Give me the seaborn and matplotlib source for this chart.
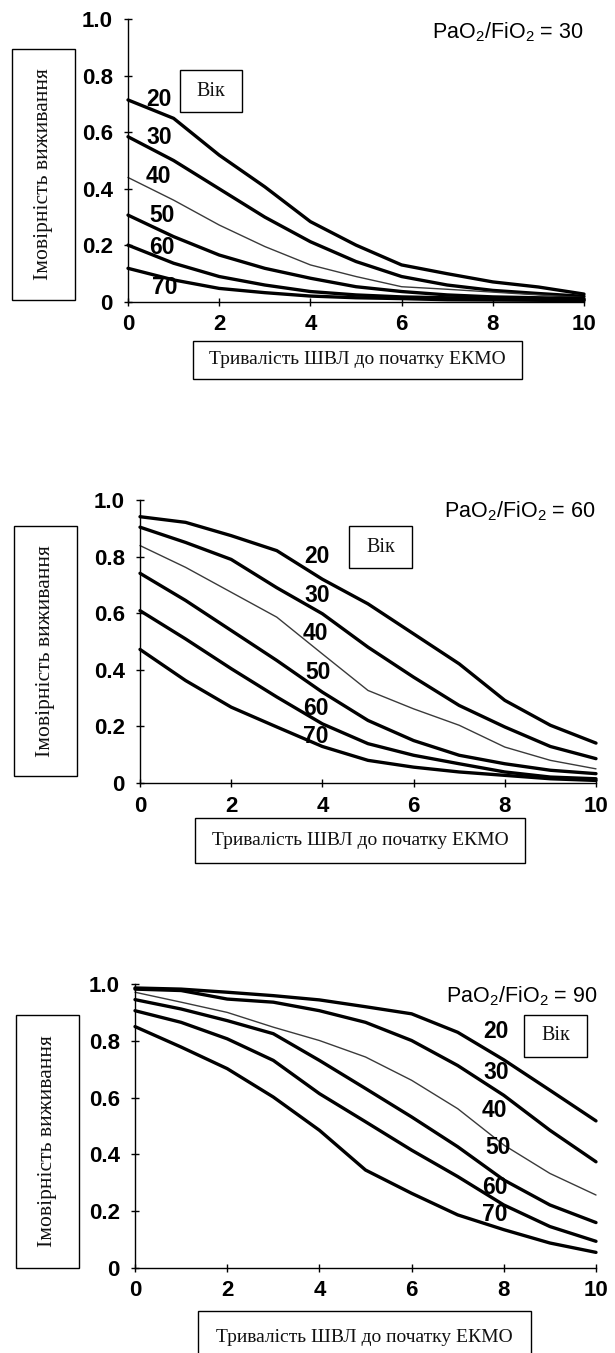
import numpy as np
import pandas as pd
import matplotlib
matplotlib.use("Agg")
import matplotlib.pyplot as plt
from matplotlib.patches import Rectangle
import seaborn as sns

# Ventilation days before ECMO (x) and survival probability per age group
days = [0, 1, 2, 3, 4, 5, 6, 7, 8, 9, 10]
ages = [20, 30, 40, 50, 60, 70]

# PaO2/FiO2 = 30
p30_age20 = [0.714, 0.649, 0.519, 0.407, 0.284, 0.201, 0.131, 0.100, 0.071, 0.053, 0.028]
p30_age30 = [0.584, 0.500, 0.400, 0.300, 0.213, 0.143, 0.090, 0.060, 0.041, 0.030, 0.020]
p30_age40 = [0.440, 0.360, 0.272, 0.196, 0.131, 0.090, 0.054, 0.045, 0.035, 0.025, 0.015]
p30_age50 = [0.307, 0.231, 0.166, 0.119, 0.084, 0.054, 0.037, 0.025, 0.018, 0.015, 0.012]
p30_age60 = [0.201, 0.137, 0.090, 0.060, 0.037, 0.025, 0.018, 0.015, 0.012, 0.010, 0.008]
p30_age70 = [0.119, 0.078, 0.048, 0.033, 0.021, 0.015, 0.012, 0.008, 0.007, 0.006, 0.005]

# PaO2/FiO2 = 60
p60_age20 = [0.941, 0.921, 0.874, 0.821, 0.720, 0.633, 0.527, 0.421, 0.292, 0.204, 0.141]
p60_age30 = [0.904, 0.850, 0.790, 0.690, 0.598, 0.480, 0.374, 0.274, 0.198, 0.129, 0.086]
p60_age40 = [0.839, 0.762, 0.674, 0.586, 0.456, 0.327, 0.262, 0.204, 0.127, 0.080, 0.050]
p60_age50 = [0.741, 0.645, 0.539, 0.433, 0.321, 0.221, 0.150, 0.098, 0.068, 0.045, 0.033]
p60_age60 = [0.609, 0.509, 0.404, 0.304, 0.209, 0.139, 0.098, 0.068, 0.039, 0.021, 0.015]
p60_age70 = [0.472, 0.362, 0.268, 0.198, 0.129, 0.080, 0.056, 0.039, 0.027, 0.015, 0.009]

# PaO2/FiO2 = 90
p90_age20 = [0.986, 0.982, 0.971, 0.959, 0.944, 0.920, 0.895, 0.830, 0.733, 0.626, 0.518]
p90_age30 = [0.982, 0.977, 0.947, 0.936, 0.906, 0.865, 0.801, 0.713, 0.608, 0.485, 0.374]
p90_age40 = [0.971, 0.936, 0.900, 0.848, 0.801, 0.743, 0.661, 0.561, 0.433, 0.333, 0.257]
p90_age50 = [0.945, 0.912, 0.871, 0.825, 0.731, 0.632, 0.532, 0.427, 0.310, 0.222, 0.160]
p90_age60 = [0.906, 0.865, 0.807, 0.731, 0.614, 0.515, 0.415, 0.322, 0.222, 0.146, 0.094]
p90_age70 = [0.850, 0.778, 0.702, 0.602, 0.485, 0.345, 0.263, 0.187, 0.135, 0.088, 0.055]

ratios = ["30", "60", "90"]
x_ticks = [0, 2, 4, 6, 8, 10]
x_ticklabels = ["0", "2", "4", "6", "8", "10"]
y_ticks = [0, 0.2, 0.4, 0.6, 0.8, 1.0]
y_ticklabels = ["0", "0.2", "0.4", "0.6", "0.8", "1.0"]

y_title = "Імовірність виживання"
x_title = "Тривалість ШВЛ до початку ЕКМО"
legend_title = "Вік"

panels = {
    "30": [p30_age20, p30_age30, p30_age40, p30_age50, p30_age60, p30_age70],
    "60": [p60_age20, p60_age30, p60_age40, p60_age50, p60_age60, p60_age70],
    "90": [p90_age20, p90_age30, p90_age40, p90_age50, p90_age60, p90_age70],
}

sns.set_theme(style="white")
plt.rcParams["font.family"] = ["Liberation Sans", "DejaVu Sans"]
plt.rcParams["mathtext.fontset"] = "custom"
plt.rcParams["mathtext.rm"] = "Liberation Sans"
plt.rcParams["mathtext.it"] = "Liberation Sans:italic"
plt.rcParams["mathtext.bf"] = "Liberation Sans:bold"

W, H = 615, 1353
fig = plt.figure(figsize=(W / 100, H / 100), dpi=100)


def fx(px):
    return px / W


def fy(py):
    return 1 - py / H


def add_box(x0, y0, x1, y1, text, rotation=0, size=14):
    fig.add_artist(Rectangle((fx(x0), fy(y1)), fx(x1) - fx(x0), fy(y0) - fy(y1),
                             transform=fig.transFigure, fill=False,
                             edgecolor="black", linewidth=1.0))
    fig.text(fx((x0 + x1) / 2), fy((y0 + y1) / 2), text, rotation=rotation,
             ha="center", va="center", fontsize=size, color="#111111",
             family=["Liberation Serif", "DejaVu Serif"])


# layout of each panel in pixels: axes (left, right, top, bottom)
axes_px = [(128, 584, 19, 302), (140, 596, 500, 783), (135, 596, 984, 1268)]
ratio_text_px = [(584, 32), (596, 511), (598, 996)]
age_box_px = [(180, 70, 242, 112), (349, 526, 412, 568), (524, 1015, 587, 1057)]
ylab_box_px = [(12, 49, 75, 300), (14, 526, 77, 776), (16, 1015, 79, 1268)]
xlab_box_px = [(193, 341, 522, 379), (195, 818, 525, 863), (198, 1311, 531, 1365)]
age_label_pos = [
    [(0.68, 0.714), (0.68, 0.58), (0.66, 0.442), (0.75, 0.307), (0.75, 0.194), (0.81, 0.053)],
    [(3.88, 0.80), (3.88, 0.664), (3.85, 0.53), (3.90, 0.392), (3.85, 0.265), (3.85, 0.166)],
    [(7.83, 0.831), (7.83, 0.69), (7.80, 0.556), (7.87, 0.423), (7.80, 0.285), (7.80, 0.187)],
]

for i, r in enumerate(ratios):
    l, rgt, t, b = axes_px[i]
    ax = fig.add_axes([fx(l), fy(b), fx(rgt) - fx(l), fy(t) - fy(b)])
    df = pd.DataFrame({
        "day": np.tile(days, len(ages)),
        "prob": np.concatenate(panels[r]),
        "age": np.repeat(ages, len(days)),
    })
    for age in ages:
        sub = df[df["age"] == age]
        thin = age == 40
        sns.lineplot(data=sub, x="day", y="prob", ax=ax,
                     color="#3a3a3a" if thin else "black",
                     linewidth=1.0 if thin else 2.4, clip_on=False)
    for age, (lx, ly) in zip(ages, age_label_pos[i]):
        ax.text(lx, ly, str(age), ha="center", va="center", fontsize=16.5,
                fontweight="bold", color="black")

    ax.set_xlim(0, 10)
    ax.set_ylim(0, 1)
    ax.set_xticks(x_ticks)
    ax.set_xticklabels(x_ticklabels, fontsize=16, fontweight="bold")
    ax.set_yticks(y_ticks)
    ax.set_yticklabels(y_ticklabels, fontsize=16, fontweight="bold")
    ax.set_xlabel("")
    ax.set_ylabel("")
    for side in ["top", "right"]:
        ax.spines[side].set_visible(False)
    for side in ["left", "bottom"]:
        ax.spines[side].set_color("black")
        ax.spines[side].set_linewidth(1.0)
    ax.tick_params(axis="both", direction="inout", length=6, width=1.0,
                   colors="black", left=True, bottom=True)
    ax.tick_params(axis="y", pad=8)
    ax.tick_params(axis="x", pad=6)
    ax.set_facecolor("white")

    tx, ty = ratio_text_px[i]
    fig.text(fx(tx), fy(ty), r"PaO$_\mathregular{2}$/FiO$_\mathregular{2}$ = " + r,
             ha="right", va="center", fontsize=15.5, color="black")

    add_box(*age_box_px[i], legend_title, size=14.5)
    add_box(*ylab_box_px[i], y_title, rotation=90, size=15.5)
    add_box(*xlab_box_px[i], x_title, size=14)

fig.savefig("out.png", dpi=100, facecolor="white")
